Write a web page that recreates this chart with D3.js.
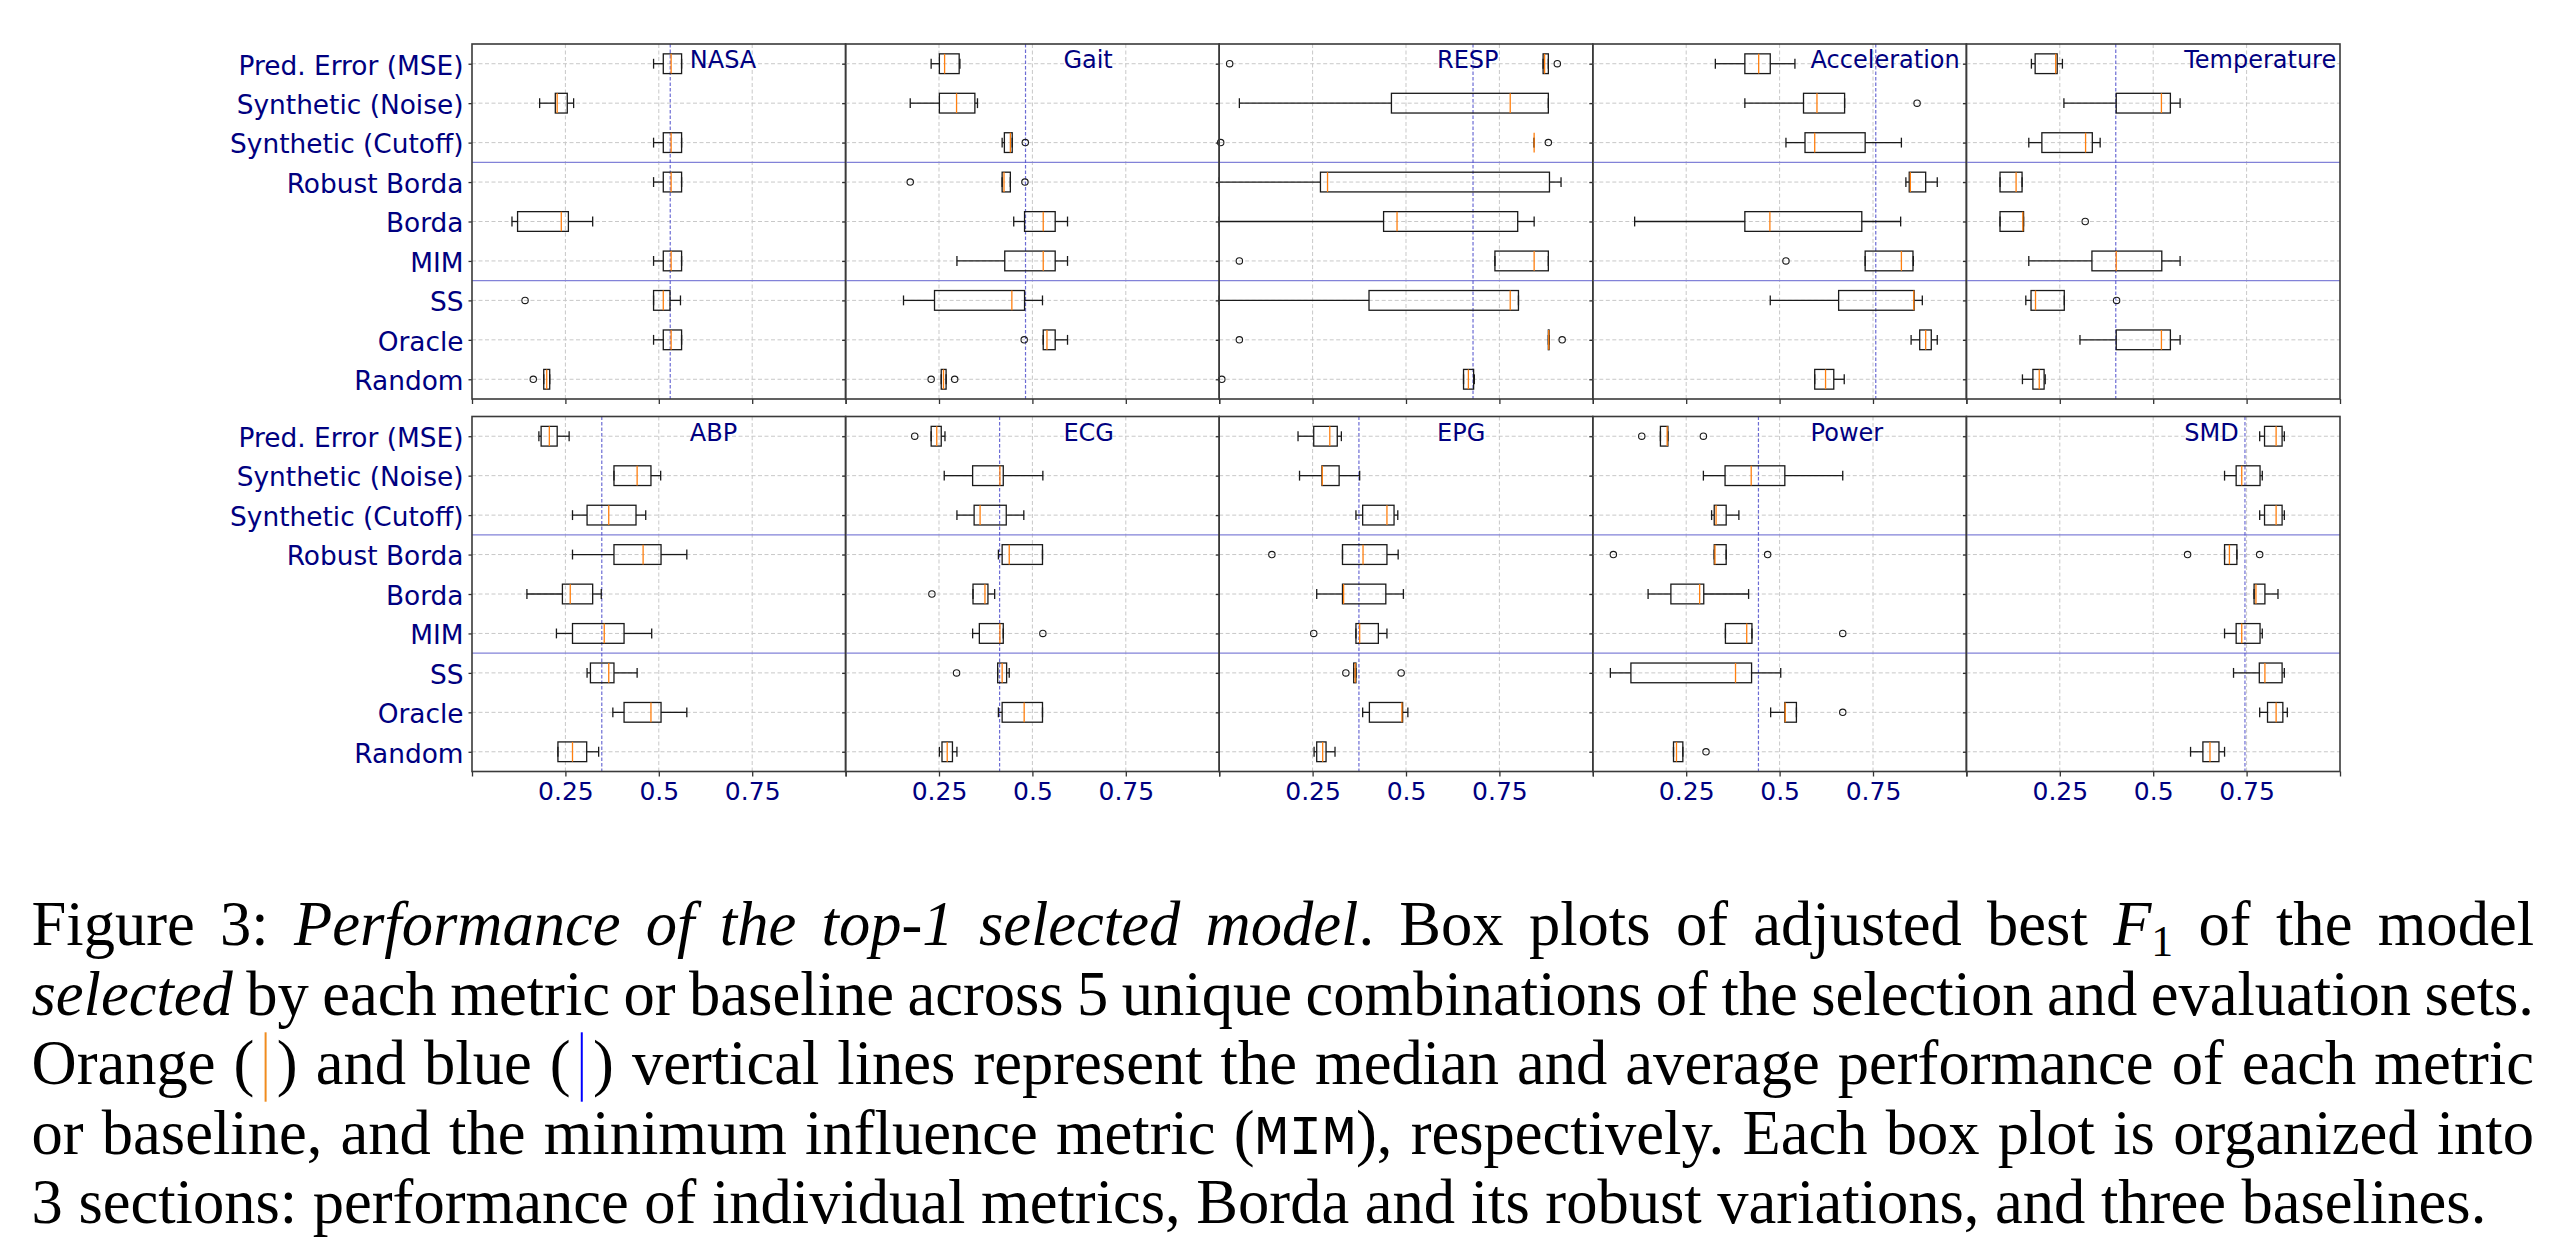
<!DOCTYPE html>
<html>
<head>
<meta charset="utf-8">
<script src="https://cdn.jsdelivr.net/npm/d3@7"></script>
<style>
  body { margin: 0; background: #fff; }
  svg { display: block; }
</style>
</head>
<body>
<svg id="fig" width="2560" height="1248"></svg>
<script>
// rows of every panel, top to bottom
var metrics = ["Pred. Error (MSE)", "Synthetic (Noise)", "Synthetic (Cutoff)", "Robust Borda",
               "Borda", "MIM", "SS", "Oracle", "Random"];
var topSets = ["NASA", "Gait", "RESP", "Acceleration", "Temperature"];
var bottomSets = ["ABP", "ECG", "EPG", "Power", "SMD"];
var xTicks = [0, 0.25, 0.5, 0.75, 1];

// adjusted best F1 of the selected model, 5 runs per row
var NASA = [
  [0.486, 0.512, 0.533, 0.561, 0.561], [0.181, 0.223, 0.228, 0.255, 0.272], [0.486, 0.512, 0.533, 0.561, 0.561],
  [0.486, 0.512, 0.533, 0.561, 0.561], [0.107, 0.122, 0.239, 0.258, 0.323], [0.486, 0.512, 0.533, 0.561, 0.561],
  [0.142, 0.486, 0.512, 0.530, 0.558], [0.486, 0.512, 0.533, 0.561, 0.561], [0.164, 0.192, 0.200, 0.208, 0.208]];
var Gait = [
  [0.229, 0.251, 0.265, 0.304, 0.306], [0.173, 0.251, 0.297, 0.346, 0.353], [0.419, 0.425, 0.441, 0.446, 0.481],
  [0.173, 0.419, 0.424, 0.441, 0.480], [0.450, 0.479, 0.529, 0.561, 0.594], [0.298, 0.426, 0.529, 0.561, 0.594],
  [0.155, 0.238, 0.445, 0.479, 0.527], [0.478, 0.529, 0.539, 0.561, 0.594], [0.229, 0.256, 0.262, 0.269, 0.292]];
var RESP = [
  [0.028, 0.867, 0.871, 0.881, 0.905], [0.054, 0.461, 0.779, 0.881, 0.881], [0.004, 0.843, 0.843, 0.843, 0.881],
  [0.000, 0.271, 0.290, 0.884, 0.915], [0.000, 0.440, 0.476, 0.799, 0.843], [0.054, 0.738, 0.843, 0.881, 0.881],
  [0.000, 0.401, 0.779, 0.801, 0.801], [0.054, 0.881, 0.882, 0.883, 0.918], [0.007, 0.654, 0.667, 0.681, 0.683]];
var Acceleration = [
  [0.328, 0.407, 0.444, 0.475, 0.541], [0.407, 0.564, 0.600, 0.674, 0.868], [0.517, 0.568, 0.594, 0.729, 0.826],
  [0.838, 0.847, 0.850, 0.891, 0.922], [0.112, 0.407, 0.474, 0.720, 0.824], [0.517, 0.729, 0.826, 0.857, 0.858],
  [0.475, 0.658, 0.859, 0.860, 0.882], [0.852, 0.875, 0.891, 0.906, 0.922], [0.594, 0.594, 0.623, 0.645, 0.673]];
var Temperature = [
  [0.174, 0.184, 0.239, 0.243, 0.257], [0.261, 0.401, 0.522, 0.546, 0.572], [0.167, 0.202, 0.319, 0.337, 0.358],
  [0.090, 0.090, 0.133, 0.149, 0.149], [0.090, 0.090, 0.151, 0.153, 0.318], [0.167, 0.336, 0.401, 0.523, 0.572],
  [0.159, 0.173, 0.185, 0.262, 0.402], [0.304, 0.401, 0.522, 0.546, 0.572], [0.150, 0.178, 0.195, 0.208, 0.211]];
var ABP = [
  [0.179, 0.185, 0.207, 0.228, 0.260], [0.380, 0.380, 0.442, 0.479, 0.505], [0.269, 0.308, 0.366, 0.439, 0.465],
  [0.269, 0.380, 0.458, 0.506, 0.575], [0.147, 0.242, 0.263, 0.323, 0.346], [0.226, 0.269, 0.354, 0.407, 0.481],
  [0.308, 0.317, 0.366, 0.380, 0.442], [0.377, 0.407, 0.479, 0.506, 0.575], [0.230, 0.230, 0.269, 0.307, 0.339]];
var ECG = [
  [0.185, 0.229, 0.244, 0.256, 0.266], [0.264, 0.340, 0.413, 0.422, 0.528], [0.298, 0.344, 0.360, 0.430, 0.477],
  [0.409, 0.419, 0.438, 0.527, 0.527], [0.231, 0.341, 0.373, 0.381, 0.399], [0.340, 0.358, 0.413, 0.422, 0.528],
  [0.297, 0.407, 0.419, 0.431, 0.438], [0.409, 0.419, 0.478, 0.527, 0.527], [0.251, 0.258, 0.272, 0.286, 0.298]];
var EPG = [
  [0.211, 0.253, 0.296, 0.316, 0.327], [0.215, 0.275, 0.276, 0.321, 0.376], [0.366, 0.384, 0.449, 0.468, 0.478],
  [0.141, 0.330, 0.385, 0.449, 0.479], [0.261, 0.330, 0.333, 0.446, 0.493], [0.253, 0.366, 0.376, 0.426, 0.449],
  [0.339, 0.360, 0.364, 0.366, 0.487], [0.384, 0.402, 0.489, 0.491, 0.505], [0.254, 0.261, 0.277, 0.286, 0.310]];
var Power = [
  [0.131, 0.181, 0.199, 0.201, 0.296], [0.296, 0.354, 0.424, 0.514, 0.669], [0.318, 0.325, 0.330, 0.357, 0.391],
  [0.055, 0.325, 0.327, 0.357, 0.468], [0.148, 0.209, 0.286, 0.297, 0.417], [0.355, 0.355, 0.412, 0.426, 0.669],
  [0.047, 0.102, 0.382, 0.425, 0.503], [0.476, 0.514, 0.515, 0.545, 0.669], [0.216, 0.216, 0.224, 0.241, 0.303]];
var SMD = [
  [0.785, 0.798, 0.829, 0.845, 0.851], [0.691, 0.722, 0.737, 0.786, 0.792], [0.785, 0.798, 0.829, 0.845, 0.851],
  [0.592, 0.691, 0.704, 0.724, 0.785], [0.770, 0.770, 0.775, 0.799, 0.834], [0.691, 0.722, 0.737, 0.786, 0.792],
  [0.715, 0.784, 0.799, 0.845, 0.851], [0.785, 0.806, 0.829, 0.847, 0.859], [0.600, 0.633, 0.652, 0.676, 0.691]];

var runs = {NASA: NASA, Gait: Gait, RESP: RESP, Acceleration: Acceleration, Temperature: Temperature,
            ABP: ABP, ECG: ECG, EPG: EPG, Power: Power, SMD: SMD};

var navy = "#000080";
var svg = d3.select("#fig");

var left0 = 472, pw = 373.6, ph = 355;
var rowTop = [44, 416.5];

var x = d3.scaleLinear().domain([0, 1]).range([0, pw]);
var y = d3.scalePoint().domain(metrics).range([0, ph]).padding(0.5);
var step = y.step();

// matplotlib style box statistics (linear quartiles, 1.5 IQR whiskers)
function boxStats(vals) {
  var v = vals.slice().sort(d3.ascending);
  var q1 = d3.quantileSorted(v, 0.25), med = d3.quantileSorted(v, 0.5), q3 = d3.quantileSorted(v, 0.75);
  var lo = q1 - 1.5 * (q3 - q1), hi = q3 + 1.5 * (q3 - q1);
  var inside = v.filter(function(d) { return d >= lo && d <= hi; });
  return {q1: q1, med: med, q3: q3, wlo: d3.min(inside), whi: d3.max(inside),
          out: v.filter(function(d) { return d < lo || d > hi; })};
}

function drawPanel(name, col, row) {
  var data = runs[name];
  var g = svg.append("g")
    .attr("transform", "translate(" + (left0 + col * pw) + "," + rowTop[row] + ")");

  // grid
  g.selectAll(".vg").data([0.25, 0.5, 0.75]).enter().append("line")
    .attr("x1", x).attr("x2", x).attr("y1", 0).attr("y2", ph)
    .attr("stroke", "#c8c8c8").attr("stroke-width", 1).attr("stroke-dasharray", "4,2.5");
  g.selectAll(".hg").data(metrics).enter().append("line")
    .attr("x1", 0).attr("x2", pw).attr("y1", y).attr("y2", y)
    .attr("stroke", "#c8c8c8").attr("stroke-width", 1).attr("stroke-dasharray", "4,2.5");

  // section separators
  g.selectAll(".sep").data([3, 6]).enter().append("line")
    .attr("x1", 0).attr("x2", pw)
    .attr("y1", function(i) { return i * step; }).attr("y2", function(i) { return i * step; })
    .attr("stroke", "#8282d8").attr("stroke-width", 1.4);

  // average of MIM
  var mimAvg = d3.mean(data[metrics.indexOf("MIM")]);
  g.append("line")
    .attr("x1", x(mimAvg)).attr("x2", x(mimAvg)).attr("y1", 0).attr("y2", ph)
    .attr("stroke", "#5252cc").attr("stroke-opacity", 0.85).attr("stroke-width", 1.2)
    .attr("stroke-dasharray", "3.5,2");

  var stats = data.map(boxStats);
  var bw = step * 0.5, cw = step * 0.25;
  var box = g.selectAll(".box").data(stats).enter().append("g")
    .attr("transform", function(d, i) { return "translate(0," + y(metrics[i]) + ")"; });

  box.append("line").attr("x1", function(d) { return x(d.wlo); }).attr("x2", function(d) { return x(d.q1); })
    .attr("stroke", "#1a1a1a").attr("stroke-width", 1.3);
  box.append("line").attr("x1", function(d) { return x(d.q3); }).attr("x2", function(d) { return x(d.whi); })
    .attr("stroke", "#1a1a1a").attr("stroke-width", 1.3);
  box.append("line").attr("x1", function(d) { return x(d.wlo); }).attr("x2", function(d) { return x(d.wlo); })
    .attr("y1", -cw / 2).attr("y2", cw / 2).attr("stroke", "#1a1a1a").attr("stroke-width", 1.3);
  box.append("line").attr("x1", function(d) { return x(d.whi); }).attr("x2", function(d) { return x(d.whi); })
    .attr("y1", -cw / 2).attr("y2", cw / 2).attr("stroke", "#1a1a1a").attr("stroke-width", 1.3);
  box.append("rect")
    .attr("x", function(d) { return x(d.q1); }).attr("y", -bw / 2)
    .attr("width", function(d) { return x(d.q3) - x(d.q1); }).attr("height", bw)
    .attr("fill", "none").attr("stroke", "#1a1a1a").attr("stroke-width", 1.3);
  box.append("line").attr("x1", function(d) { return x(d.med); }).attr("x2", function(d) { return x(d.med); })
    .attr("y1", -bw / 2).attr("y2", bw / 2).attr("stroke", "#ff7f0e").attr("stroke-width", 1.3);
  box.selectAll("circle").data(function(d) { return d.out; }).enter().append("circle")
    .attr("cx", x).attr("cy", 0).attr("r", 3.2)
    .attr("fill", "none").attr("stroke", "#1a1a1a").attr("stroke-width", 1.1);

  // axes
  var ax = g.append("g").attr("transform", "translate(0," + ph + ")")
    .call(d3.axisBottom(x).tickValues(xTicks).tickSize(5).tickSizeOuter(0).tickPadding(6)
      .tickFormat(function(d) { return (d > 0 && d < 1) ? String(d) : ""; }));
  var ay = g.append("g")
    .call(d3.axisLeft(y).tickSize(3.5).tickSizeOuter(0).tickPadding(5));
  [ax, ay].forEach(function(a) {
    a.select(".domain").remove();
    a.selectAll("line").attr("stroke", "#333").attr("stroke-width", 1.3);
    a.selectAll("text").attr("fill", navy).attr("font-family", "DejaVu Sans");
  });
  ax.selectAll("text").attr("font-size", 25);
  ay.selectAll("text").attr("font-size", 26.4).attr("dy", "0.39em");
  // only the bottom row carries x labels, only the first column carries row names
  if (row === 0) ax.selectAll("text").remove();
  else ax.selectAll("text").filter(function(d) { return d <= 0 || d >= 1; }).remove();
  if (col > 0) ay.selectAll("text").remove();

  // frame
  g.append("rect").attr("width", pw).attr("height", ph)
    .attr("fill", "none").attr("stroke", "#3a3a3a").attr("stroke-width", 1.6);

  g.append("text").attr("x", pw * 0.583).attr("y", 24.3)
    .attr("font-family", "DejaVu Sans").attr("font-size", 24).attr("fill", navy)
    .text(name);
}

topSets.forEach(function(n, i) { drawPanel(n, i, 0); });
bottomSets.forEach(function(n, i) { drawPanel(n, i, 1); });

// ---- caption ----
var capLines = [
  [["Figure 3: ", ""], ["Performance of the top-1 selected model", "i"], [". Box plots of adjusted best ", ""],
   ["F", "i"], ["1", "sub"], [" of the model", ""]],
  [["selected", "i"], [" by each metric or baseline across 5 unique combinations of the selection and evaluation sets.", ""]],
  [["Orange (", ""], [")", "barO"], [" and blue (", ""], [")", "barB"],
   [" vertical lines represent the median and average performance of each metric", ""]],
  [["or baseline, and the minimum influence metric (", ""], ["MIM", "tt"], ["), respectively. Each box plot is organized into", ""]],
  [["3 sections: performance of individual metrics, Borda and its robust variations, and three baselines.", ""]]
];
var capLeft = 31.5, capRight = 2534, base0 = 945, lead = 69.6;

var cap = svg.append("g").attr("font-family", "Liberation Serif, 'Times New Roman', serif").attr("fill", "#000");

function buildLine(parts, i, fs) {
  var t = cap.append("text").attr("x", capLeft).attr("y", base0 + i * lead).attr("font-size", fs);
  var bars = [], idx = 0;
  parts.forEach(function(p, k) {
    var s = t.append("tspan").text(p[0]);
    if (p[1] === "i") s.attr("font-style", "italic");
    if (p[1] === "tt") s.attr("font-family", "Liberation Mono, monospace").attr("font-size", fs * 0.9);
    if (p[1] === "sub") s.attr("font-size", fs * 0.7).attr("dy", fs * 0.17);
    if (p[1] === "barO" || p[1] === "barB") {
      s.attr("dx", fs * 0.36);
      bars.push({idx: idx, color: p[1] === "barO" ? "#f08c1e" : "#0000ff"});
    }
    if (k > 0 && parts[k - 1][1] === "sub") s.attr("dy", -fs * 0.17);
    idx += p[0].length;
  });
  return {t: t, bars: bars};
}

// size the caption so the last (unjustified) line has the reference length
var probe = buildLine(capLines[4], 4, 56);
var fs = 56 * 2455 / probe.t.node().getComputedTextLength();
probe.t.remove();

capLines.forEach(function(parts, i) {
  var L = buildLine(parts, i, fs);
  var node = L.t.node();
  if (i < capLines.length - 1) {
    var w = node.getBBox().width;
    var full = parts.map(function(p) { return p[0]; }).join("");
    var spaces = full.split(" ").length - 1;
    L.t.attr("word-spacing", (capRight - capLeft - w) / spaces);
  }
  var yb = base0 + i * lead;
  L.bars.forEach(function(b) {
    var px = node.getStartPositionOfChar(b.idx).x - fs * 0.18;
    cap.append("line").attr("x1", px).attr("x2", px)
      .attr("y1", yb - fs * 0.83).attr("y2", yb + fs * 0.28)
      .attr("stroke", b.color).attr("stroke-width", 2);
  });
});
</script>
</body>
</html>
